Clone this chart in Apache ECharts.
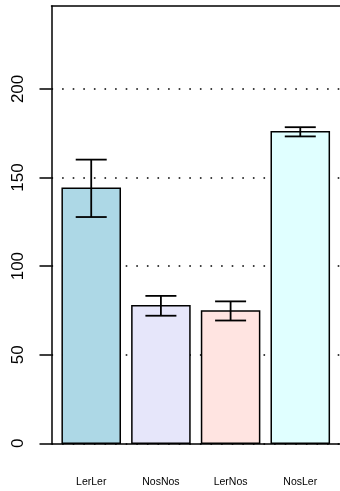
<!DOCTYPE html>
<html>
<head>
<meta charset="utf-8">
<script src="https://cdn.jsdelivr.net/npm/echarts@6/dist/echarts.min.js"></script>
<style>
html,body{margin:0;padding:0;background:#fff;}
#chart{width:340px;height:491px;}
</style>
</head>
<body>
<div id="chart"></div>
<script>
// ---- data ----
var categories = ['LerLer', 'NosNos', 'LerNos', 'NosLer'];
var means = [143.9, 77.6, 74.7, 175.8];
var errors = [16.2, 5.6, 5.4, 2.6];
var barColors = ['#ADD8E6', '#E6E6FA', '#FFE4E1', '#E0FFFF'];
var yTicks = [0, 50, 100, 150, 200];

// R barplot layout: width 1, space 0.2
var SPACE = 0.2, WIDTH = 1;
function barLeft(i) { return SPACE + i * (SPACE + WIDTH); }
var nBars = categories.length;
var xMinR = SPACE, xMaxR = barLeft(nBars - 1) + WIDTH;
var pad = (xMaxR - xMinR) * 0.04;
var centers = categories.map(function (c, i) { return barLeft(i) + WIDTH / 2; });

var barData = means.map(function (m, i) { return [barLeft(i), barLeft(i) + WIDTH, m, i]; });
var errData = means.map(function (m, i) { return [centers[i], m - errors[i], m + errors[i]]; });

var chart = echarts.init(document.getElementById('chart'), null, { renderer: 'canvas' });
var FONT = 'Liberation Sans, Arial, Helvetica, sans-serif';
var frameLine = { show: true, lineStyle: { color: '#000', width: 1.5 } };

chart.setOption({
  animation: false,
  backgroundColor: '#fff',
  grid: { left: 51.5, right: -1.7, top: 6, bottom: 47.7, show: false },
  xAxis: [
    {
      type: 'value', min: xMinR - pad, max: xMaxR + pad, position: 'bottom',
      axisLine: frameLine, axisTick: { show: false }, splitLine: { show: false },
      axisLabel: {
        customValues: centers,
        formatter: function (v) {
          for (var i = 0; i < centers.length; i++) if (Math.abs(centers[i] - v) < 1e-6) return categories[i];
          return '';
        },
        fontFamily: FONT, fontSize: 10.5, color: '#000', margin: 33
      }
    },
    {
      type: 'value', min: xMinR - pad, max: xMaxR + pad, position: 'top',
      axisLine: frameLine, axisTick: { show: false }, axisLabel: { show: false }, splitLine: { show: false }
    }
  ],
  yAxis: {
    type: 'value', min: 0, max: 246.8,
    axisLine: frameLine,
    axisTick: { show: true, customValues: yTicks, length: 12, lineStyle: { color: '#000', width: 1.5 } },
    axisLabel: {
      customValues: yTicks, rotate: 90, fontFamily: FONT, fontSize: 17, color: '#000', margin: 25
    },
    splitLine: { show: true, lineStyle: { color: '#000', width: 1.6, type: [1.6, 9] } }
  },
  series: [
    {
      type: 'custom',
      data: barData,
      z: 3,
      renderItem: function (params, api) {
        var p0 = api.coord([api.value(0), api.value(2)]);
        var p1 = api.coord([api.value(1), 0]);
        return {
          type: 'rect',
          shape: { x: p0[0], y: p0[1], width: p1[0] - p0[0], height: p1[1] - p0[1] },
          style: { fill: barColors[api.value(3)], stroke: '#000', lineWidth: 1.5 }
        };
      }
    },
    {
      type: 'custom',
      data: errData,
      z: 4,
      renderItem: function (params, api) {
        var lo = api.coord([api.value(0), api.value(1)]);
        var hi = api.coord([api.value(0), api.value(2)]);
        var half = 15.5;
        var st = { stroke: '#000', lineWidth: 1.8 };
        return {
          type: 'group',
          children: [
            { type: 'line', shape: { x1: lo[0], y1: lo[1], x2: hi[0], y2: hi[1] }, style: st },
            { type: 'line', shape: { x1: hi[0] - half, y1: hi[1], x2: hi[0] + half, y2: hi[1] }, style: st },
            { type: 'line', shape: { x1: lo[0] - half, y1: lo[1], x2: lo[0] + half, y2: lo[1] }, style: st }
          ]
        };
      }
    }
  ]
});
</script>
</body>
</html>
